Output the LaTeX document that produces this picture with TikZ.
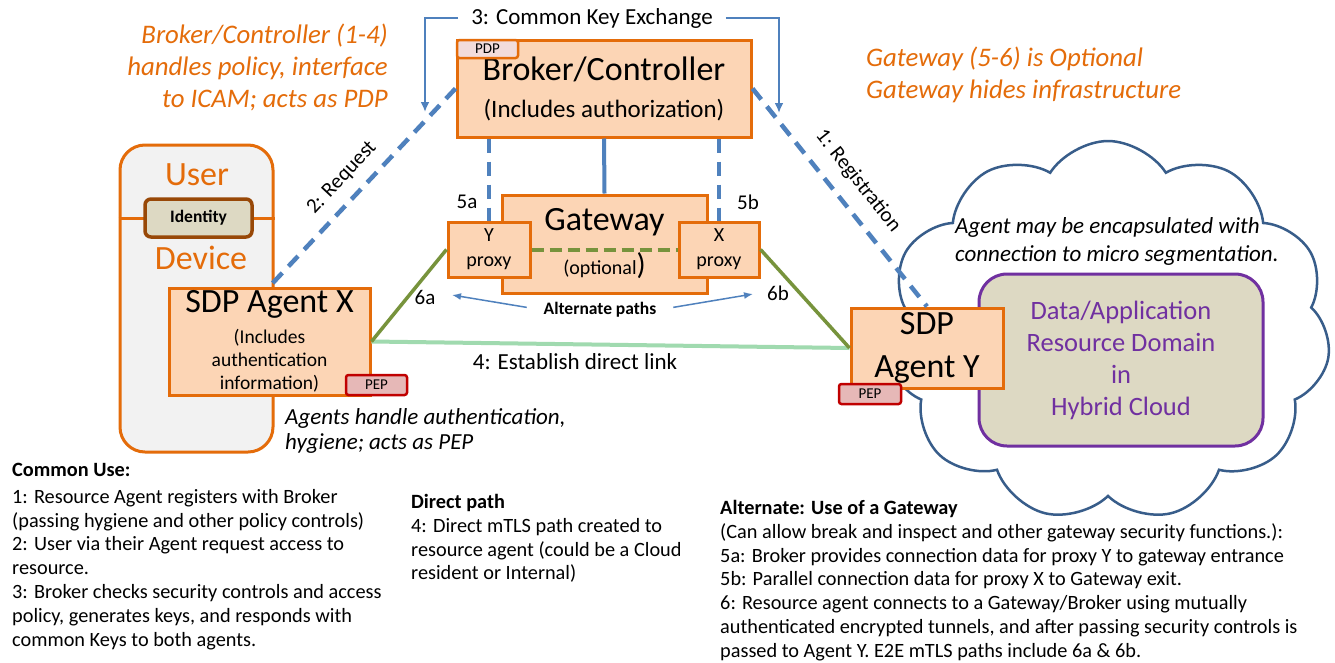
\documentclass[tikz,border=0pt]{standalone}
\usepackage{fontspec}
\setmainfont{Carlito}
\usetikzlibrary{positioning,arrows.meta,shapes.symbols}
\definecolor{sdpOrange}{RGB}{228,108,10}
\definecolor{sdpPeach}{RGB}{252,213,181}
\definecolor{sdpBlue}{RGB}{79,129,189}
\definecolor{sdpGreen}{RGB}{119,147,60}
\definecolor{sdpMint}{RGB}{160,218,175}
\definecolor{sdpGray}{RGB}{242,242,242}
\definecolor{sdpTan}{RGB}{221,217,195}
\definecolor{sdpBrown}{RGB}{152,72,7}
\definecolor{sdpPurple}{RGB}{112,48,160}
\definecolor{sdpRed}{RGB}{192,0,0}
\definecolor{sdpPink}{RGB}{230,184,183}
\definecolor{sdpRose}{RGB}{242,220,219}
\definecolor{sdpCloud}{RGB}{56,93,138}
\newcommand{\fsz}[2]{\fontsize{#1}{#2}\selectfont}

\begin{document}
\begin{tikzpicture}[x=1pt,y=-1pt,
  box/.style={draw=sdpOrange, fill=sdpPeach, line width=3pt, inner sep=0pt, align=center},
  tagbox/.style={draw=#1, line width=2.5pt, rounded corners=2.5pt, inner sep=0pt, font=\fsz{15}{18}},
  ctrl/.style={sdpBlue, line width=4.5pt, dash pattern=on 14pt off 9pt},
  keyarrow/.style={sdpBlue, line width=2pt, -{Latex[length=10pt,width=9pt]}},
  altarrow/.style={sdpBlue, line width=1.5pt, -{Latex[length=9pt,width=7pt]}},
  tunnel/.style={sdpGreen, line width=3.5pt},
  note/.style={inner sep=0pt, align=left, anchor=north west, font=\fsz{20.3}{23.8}},
  orangenote/.style={text=sdpOrange, inner sep=0pt, font=\fsz{26.8}{32}\itshape},
  lbl/.style={inner sep=1pt, font=\fsz{21}{24}}
]
  \fill[white] (0,0) rectangle (1335,662);
  \useasboundingbox (0,0) rectangle (1335,662);

  % notes on top
  \node[orangenote, align=right, anchor=east] (brokernote) at (388,67.5)
    {Broker/Controller (1-4)\\handles policy, interface\\to ICAM; acts as PDP};
  \node[orangenote, align=left, anchor=west] (gatewaynote) at (866,75)
    {Gateway (5-6) is Optional\\Gateway hides infrastructure};
  \node[inner ysep=1pt, inner xsep=13pt, font=\fsz{23}{26}] (keyx) at (592,18) {3: Common Key Exchange};

  % user device
  \node[draw=sdpOrange, fill=sdpGray, line width=3pt, rounded corners=25pt,
        minimum width=153pt, minimum height=307pt] (device) at (196.5,298.5) {};
  \draw[sdpOrange, line width=3pt] (device.west |- 0,218) -- (device.east |- 0,218);
  \node[draw=sdpBrown, fill=sdpTan, line width=3.5pt, rounded corners=6pt,
        minimum width=107pt, minimum height=38pt, inner sep=0pt,
        font=\fsz{17.5}{20}\bfseries] (identity) at (198.5,218) {Identity};
  \node[text=sdpOrange, font=\fsz{34}{36}] (user) at (197,175) {User};
  \node[text=sdpOrange, font=\fsz{34}{36}] (devlabel) at (201,258) {Device};

  % broker and gateway
  \node[box, minimum width=294pt, minimum height=97pt, font=\fsz{34}{37}] (broker) at (604,88.5)
    {Broker/Controller\\{\fsz{25}{30}(Includes authorization)}};
  \node[tagbox=sdpOrange, fill=sdpRose, minimum width=61pt, minimum height=18pt] (pdp) at (487.5,49) {PDP};
  \node[box, minimum width=205pt, minimum height=98pt, font=\fsz{34}{44}] (gateway) at (604.5,244)
    {Gateway\\{\fsz{20}{24}(optional{\fsz{30}{30})}}};
  \node[box, minimum width=82pt, minimum height=55pt, font=\fsz{20}{25}] (yproxy) at (489,249.5) {Y\\proxy};
  \node[box, minimum width=80pt, minimum height=55pt, font=\fsz{20}{25}] (xproxy) at (719,249.5) {X\\proxy};

  % agent X
  \node[box, minimum width=201pt, minimum height=107pt, font=\fsz{34}{23}] (agentx) at (269.5,341.5)
    {SDP Agent X\\[8pt]{\fsz{19.5}{23}(Includes}\\{\fsz{19.5}{23}authentication}\\{\fsz{19.5}{23}information)}};
  \node[tagbox=sdpRed, fill=sdpPink, minimum width=61pt, minimum height=20pt] (pepx) at (376.5,385) {PEP};

  % cloud with resource domain and agent Y
  \node[cloud, draw=sdpCloud, fill=white, line width=2.5pt, cloud puffs=11, cloud puff arc=115,
        minimum width=445pt, minimum height=380pt] (cloud) at (1108,331) {};
  \node[inner sep=0pt, align=left, anchor=west, font=\fsz{23}{28}\itshape] (cloudnote) at (955,241)
    {Agent may be encapsulated with\\connection to micro segmentation.};
  \node[draw=sdpPurple, fill=sdpTan, line width=3pt, rounded corners=28pt, align=center,
        minimum width=284pt, minimum height=172pt, text=sdpPurple, font=\fsz{26.5}{32}] (resource) at (1121,360)
    {Data/Application\\Resource Domain\\in\\Hybrid Cloud};
  \node[box, minimum width=152pt, minimum height=80pt, font=\fsz{34}{43}] (agenty) at (927,348) {SDP\\Agent Y};
  \node[tagbox=sdpRed, fill=sdpPink, minimum width=62pt, minimum height=20pt] (pepy) at (870,394) {PEP};

  % control plane
  \draw[ctrl] (broker.west) -- (agentx.north);
  \draw[ctrl] (broker.east) -- (agenty.north);
  \draw[ctrl] (yproxy.north |- broker.south) -- (yproxy.north);
  \draw[ctrl] (xproxy.north |- broker.south) -- (xproxy.north);
  \draw[sdpBlue, line width=4pt] (broker.south) -- (gateway.north);
  \node[lbl, rotate=47] (reqlabel) at (342,178) {2: Request};
  \node[lbl, rotate=-51.6] (reglabel) at (858,181) {1: Registration};

  % key exchange arrows
  \coordinate (keyl) at (425,112);
  \coordinate (keyr) at (779,113);
  \draw[keyarrow] (keyx.west) -| (keyl);
  \draw[keyarrow] (keyx.east) -| (keyr);

  % data plane
  \draw[sdpMint, line width=4pt] (agentx.east) -- (agenty.west);
  \draw[tunnel] (agentx.east) -- (yproxy.west);
  \draw[tunnel] (xproxy.east) -- (agenty.west);
  \draw[sdpGreen, line width=4pt, dash pattern=on 12pt off 6pt] (yproxy.east) -- (xproxy.west);
  \node[lbl] (l5a) at (467,202) {5a};
  \node[lbl] (l5b) at (748,202) {5b};
  \node[lbl] (l6a) at (425,297) {6a};
  \node[lbl] (l6b) at (778,293) {6b};
  \node[inner sep=1pt, font=\fsz{17.5}{20}\bfseries] (altp) at (600,310) {Alternate paths};
  \coordinate (altl) at (452,295);
  \coordinate (altr) at (753,294);
  \draw[altarrow, shorten <=16pt] (altp.west) -- (altl);
  \draw[altarrow, shorten <=16pt] (altp.east) -- (altr);
  \node[inner sep=1pt, font=\fsz{23}{26}] (direct) at (575,362) {4: Establish direct link};
  \node[inner sep=0pt, align=left, anchor=west, font=\fsz{23}{25}\itshape] (agentnote) at (285,430.5)
    {Agents handle authentication,\\hygiene; acts as PEP};

  % explanations
  \node[note] (commonuse) at (12,463)
    {\textbf{Common Use:}\\[3pt]1: Resource Agent registers with Broker\\(passing hygiene and other policy controls)\\2: User via their Agent request access to\\resource.\\3: Broker checks security controls and access\\policy, generates keys, and responds with\\common Keys to both agents.};
  \node[note] (directpath) at (411,494)
    {\textbf{Direct path}\\4: Direct mTLS path created to\\resource agent (could be a Cloud\\resident or Internal)};
  \node[note] (alternate) at (720,500)
    {\textbf{Alternate: Use of a Gateway}\\(Can allow break and inspect and other gateway security functions.):\\5a: Broker provides connection data for proxy Y to gateway entrance\\5b: Parallel connection data for proxy X to Gateway exit.\\6: Resource agent connects to a Gateway/Broker using mutually\\authenticated encrypted tunnels, and after passing security controls is\\passed to Agent Y. E2E mTLS paths include 6a \& 6b.};
\end{tikzpicture}
\end{document}
